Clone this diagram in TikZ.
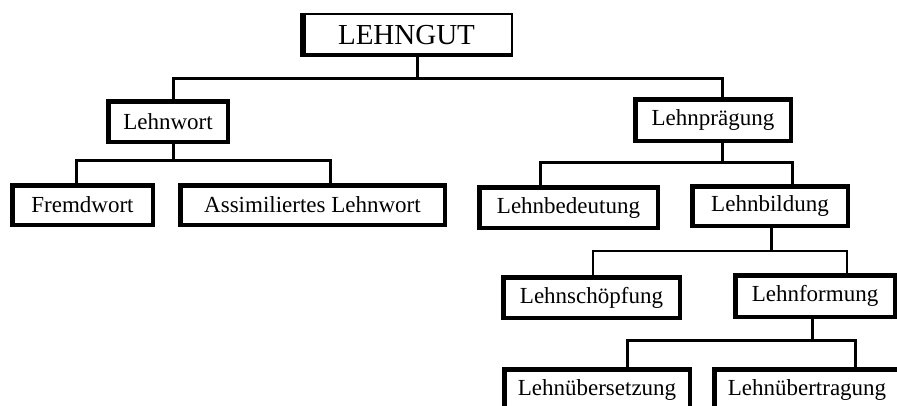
\documentclass[tikz,border=0pt]{standalone}
\usepackage{fontspec}
\setmainfont{Liberation Serif}
\usepackage{tikz}

\begin{document}
\begin{tikzpicture}[
        x=1pt, y=-1pt,
        box/.style={draw, line width=4.5pt, inner sep=0pt,
            font=\fontsize{23}{25}\selectfont},
        topbox/.style={draw, line width=2pt, inner sep=0pt,
            font=\fontsize{29}{31}\selectfont},
        conn/.style={line width=3pt}
    ]
        \useasboundingbox (0,0) rectangle (897,405);
        \clip (0,0) rectangle (897,405);

        % Root
        \node[topbox, minimum width=211pt, minimum height=42pt] (top) at (406.5,35) {LEHNGUT};
        \draw[line width=6pt] ([xshift=3pt]top.north west) -- ([xshift=3pt]top.south west);
        \draw[line width=4pt] ([yshift=2pt]top.south west) -- ([yshift=2pt]top.south east);

        % Level 1
        \node[box, minimum width=119.5pt, minimum height=40.5pt] (lw) at (168,121.5) {Lehnwort};
        \node[box, minimum width=155.5pt, minimum height=41.5pt] (lp) at (713,120) {Lehnprägung};

        % Level 2
        \node[box, minimum width=140.5pt, minimum height=39.5pt] (fw) at (82.5,205) {Fremdwort};
        \node[box, minimum width=264.5pt, minimum height=39.5pt] (al) at (312.5,205) {Assimiliertes Lehnwort};
        \node[box, minimum width=178.5pt, minimum height=40.5pt] (lbd) at (568.5,207.5) {Lehnbedeutung};
        \node[box, minimum width=155.5pt, minimum height=39.5pt] (lbi) at (770,206) {Lehnbildung};

        % Level 3
        \node[box, minimum width=176.5pt, minimum height=40.5pt] (lsch) at (591.5,297.5) {Lehnschöpfung};
        \node[box, minimum width=159.5pt, minimum height=41.5pt] (lfo) at (815,296) {Lehnformung};

        % Level 4
        \node[box, minimum width=185.5pt, minimum height=40.5pt] (lues) at (597,389.5) {Lehnübersetzung};
        \node[box, minimum width=185.5pt, minimum height=40.5pt] (luet) at (807,389.5) {Lehnübertragung};

        % Connectors
        \draw[conn] ([xshift=10.5pt]top.south) -- ++(0,21) coordinate (b1);
        \draw[conn] ([xshift=5pt]lw.north) |- (b1) -| ([xshift=9pt]lp.north);

        \draw[conn] ([xshift=5pt]lw.south) -- ++(0,16) coordinate (b2);
        \draw[conn] ([xshift=-6.5pt]fw.north) |- (b2) -| ([xshift=17.5pt]al.north);

        \draw[conn] ([xshift=9pt]lp.south) -- ++(0,19) coordinate (b3);
        \draw[conn] ([xshift=-28.5pt]lbd.north) |- (b3) -| ([xshift=22pt]lbi.north);

        \draw[conn] ([xshift=1pt]lbi.south) -- ++(0,23) coordinate (b4);
        \draw[conn, line width=2.2pt] ([xshift=1.5pt]lsch.north) |- (b4) -| ([xshift=32pt]lfo.north);

        \draw[conn] ([xshift=-3pt]lfo.south) -- ++(0,21) coordinate (b5);
        \draw[conn] ([xshift=30pt]lues.north) |- (b5) -| ([xshift=48pt]luet.north);

    \end{tikzpicture}
\end{document}
